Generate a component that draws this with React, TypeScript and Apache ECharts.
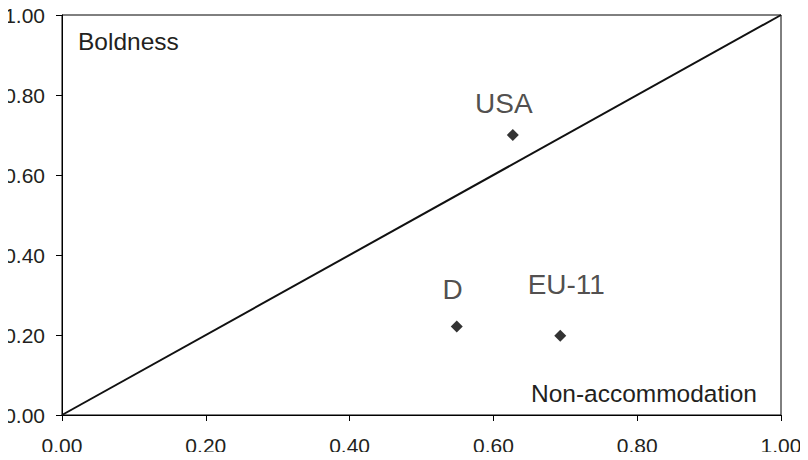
import React, { useEffect, useRef } from "react";
import * as echarts from "echarts";

const countries = ["USA", "D", "EU-11"];
const nonAccommodation = [0.627, 0.549, 0.693];
const boldness = [0.7, 0.221, 0.198];
const labelOffsets: [number, number][] = [[-9, -32], [-4, -37], [6, -51]];
const diagonal: [number, number][] = [[0, 0], [1, 1]];
const axisTicks = [0, 0.2, 0.4, 0.6, 0.8, 1];

export default function App() {
  const ref = useRef<HTMLDivElement>(null);
  useEffect(() => {
    if (!ref.current) return;
    const chart = echarts.init(ref.current, null, { renderer: "svg" });
    const font = "'Liberation Sans', Arial, sans-serif";
    const ink = "#231f20";
    const axisCommon = {
      min: 0,
      max: 1,
      interval: 0.2,
      axisLine: { show: true, onZero: false, lineStyle: { color: "#000", width: 1 } },
      axisTick: { show: true, length: 6, lineStyle: { color: "#000" } },
      splitLine: { show: false },
      axisLabel: {
        color: ink,
        fontSize: 21,
        fontFamily: font,
        formatter: (v: number) => (axisTicks.includes(Math.round(v * 10) / 10) ? v.toFixed(2) : ""),
      },
    };
    chart.setOption({
      animation: false,
      backgroundColor: "#fff",
      grid: { left: 62, right: 27, top: 15, bottom: 45, show: true, borderColor: "#000", borderWidth: 1 },
      xAxis: { ...axisCommon, type: "value", axisLabel: { ...axisCommon.axisLabel, margin: 20 } },
      yAxis: { ...axisCommon, type: "value", axisLabel: { ...axisCommon.axisLabel, margin: 17 } },
      series: [
        {
          type: "line",
          data: diagonal,
          symbol: "none",
          lineStyle: { color: "#111", width: 2 },
          silent: true,
        },
        {
          type: "scatter",
          symbol: "diamond",
          symbolSize: 12,
          itemStyle: { color: "#000" },
          data: countries.map((c, i) => ({
            value: [nonAccommodation[i], boldness[i]],
            name: c,
            label: {
              show: true,
              formatter: c,
              position: "inside",
              offset: labelOffsets[i],
              color: ink,
              fontSize: 28,
              fontFamily: font,
            },
          })),
        },
      ],
      graphic: [
        {
          type: "text",
          x: 78,
          y: 41.5,
          style: { text: "Boldness", fontSize: 24.5, fontFamily: font, fill: ink, verticalAlign: "middle" },
        },
        {
          type: "text",
          x: 757,
          y: 393.5,
          style: {
            text: "Non-accommodation",
            fontSize: 24.5,
            fontFamily: font,
            fill: ink,
            align: "right",
            verticalAlign: "middle",
          },
        },
      ],
    });
    return () => chart.dispose();
  }, []);
  return <div ref={ref} style={{ width: 808, height: 460, margin: -8 }} />;
}
